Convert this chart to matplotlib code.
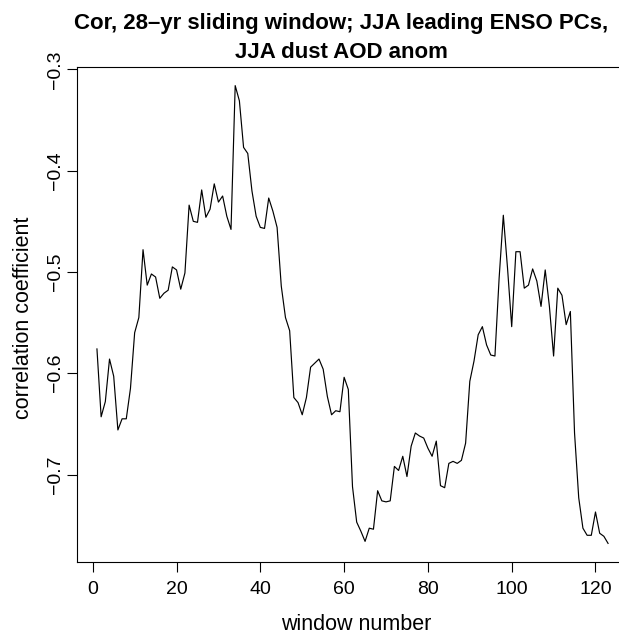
import numpy as np
import matplotlib
matplotlib.use("Agg")
import matplotlib.pyplot as plt

# correlation coefficient for each 28-yr sliding window
window = np.arange(1, 124)
corr = [
    -0.576, -0.643, -0.628, -0.586, -0.603, -0.656, -0.645, -0.645, -0.615, -0.560,
    -0.545, -0.478, -0.513, -0.502, -0.505, -0.526, -0.521, -0.518, -0.495, -0.498,
    -0.517, -0.501, -0.434, -0.450, -0.451, -0.419, -0.446, -0.438, -0.413, -0.431,
    -0.425, -0.445, -0.458, -0.316, -0.331, -0.377, -0.383, -0.420, -0.445, -0.456,
    -0.457, -0.427, -0.440, -0.456, -0.514, -0.545, -0.558, -0.624, -0.629, -0.641,
    -0.624, -0.594, -0.590, -0.586, -0.596, -0.623, -0.641, -0.637, -0.638, -0.604,
    -0.616, -0.712, -0.747, -0.756, -0.766, -0.753, -0.754, -0.716, -0.726, -0.727,
    -0.726, -0.692, -0.696, -0.682, -0.702, -0.672, -0.659, -0.662, -0.664, -0.674,
    -0.682, -0.667, -0.711, -0.713, -0.689, -0.687, -0.689, -0.686, -0.669, -0.608,
    -0.588, -0.562, -0.554, -0.572, -0.582, -0.583, -0.506, -0.444, -0.496, -0.554,
    -0.480, -0.480, -0.516, -0.513, -0.497, -0.509, -0.534, -0.498, -0.534, -0.583,
    -0.516, -0.523, -0.552, -0.539, -0.659, -0.723, -0.753, -0.760, -0.760, -0.737,
    -0.758, -0.761, -0.768,
]

xticks = [0, 20, 40, 60, 80, 100, 120]
yticks = [-0.7, -0.6, -0.5, -0.4, -0.3]

W, H = 619, 636
plt.rcParams["font.family"] = ["Liberation Sans", "DejaVu Sans"]

fig = plt.figure(figsize=(W / 100, H / 100), dpi=100)
# R-style plot region; right edge of the box falls outside the image
ax = fig.add_axes([76.5 / W, 1 - 561.7 / H, 552 / W, 494.4 / H])
ax.plot(window, corr, color="black", linewidth=0.85)
ax.margins(x=0.04, y=0.04)

ax.set_xticks(xticks)
ax.set_yticks(yticks)
ax.set_yticklabels([f"{v:.1f}".replace("-", "\u2212") for v in yticks],
                   rotation=90, va="center")
ax.tick_params(direction="out", length=7.2, width=0.8, labelsize=14)
ax.tick_params(axis="x", pad=7)
ax.tick_params(axis="y", pad=2)
for s in ax.spines.values():
    s.set_linewidth(0.8)

# axis titles and main title placed like R's margin text
fig.text(356.7 / W, 5.5 / H, "window number", fontsize=15.5,
         ha="center", va="baseline")
fig.text(13 / W, 1 - 317.5 / H, "correlation coefficient", fontsize=15.5,
         rotation=90, ha="left", va="center")
fig.text(341.5 / W, 1 - 29 / H, "Cor, 28\u2013yr sliding window; JJA leading ENSO PCs,",
         fontsize=16, fontweight="bold", ha="center", va="baseline")
fig.text(341.5 / W, 1 - 58.5 / H, "JJA dust AOD anom",
         fontsize=16, fontweight="bold", ha="center", va="baseline")

fig.savefig("out.png", dpi=100)
